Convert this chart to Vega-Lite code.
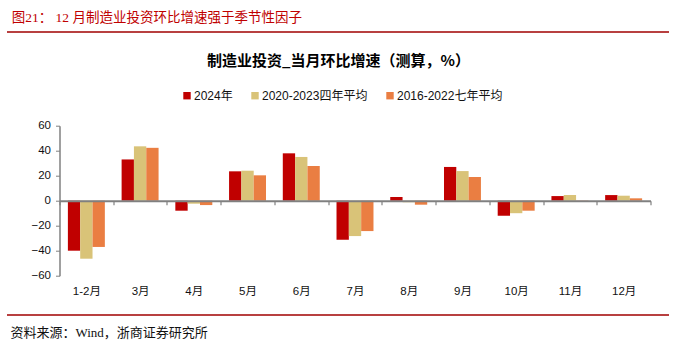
{
  "$schema": "https://vega.github.io/schema/vega-lite/v6.json",
  "autosize": "none",
  "width": 591,
  "height": 150,
  "padding": {"left": 59.5, "top": 125.7, "right": 25.5, "bottom": 69.3},
  "background": "white",
  "config": {"view": {"stroke": null}, "font": "Liberation Sans, Noto Sans CJK SC"},
  "title": {
    "text": "图21：  12  月制造业投资环比增速强于季节性因子",
    "anchor": "start",
    "frame": "group",
    "dx": -47.8,
    "offset": 7,
    "font": "Liberation Serif, Noto Sans CJK SC",
    "fontSize": 13.5,
    "fontWeight": "normal",
    "color": "#C00000"
  },
  "datasets": {
    "bars": [
      {"month": "1-2月", "series": "2024年", "value": -40},
      {"month": "1-2月", "series": "2020-2023四年平均", "value": -46.4},
      {"month": "1-2月", "series": "2016-2022七年平均", "value": -37},
      {"month": "3月", "series": "2024年", "value": 33},
      {"month": "3月", "series": "2020-2023四年平均", "value": 43.5},
      {"month": "3月", "series": "2016-2022七年平均", "value": 42.3},
      {"month": "4月", "series": "2024年", "value": -8},
      {"month": "4月", "series": "2020-2023四年平均", "value": -2.4},
      {"month": "4月", "series": "2016-2022七年平均", "value": -3.5},
      {"month": "5月", "series": "2024年", "value": 23.5},
      {"month": "5月", "series": "2020-2023四年平均", "value": 24},
      {"month": "5月", "series": "2016-2022七年平均", "value": 20.3},
      {"month": "6月", "series": "2024年", "value": 37.9},
      {"month": "6月", "series": "2020-2023四年平均", "value": 35},
      {"month": "6月", "series": "2016-2022七年平均", "value": 27.7},
      {"month": "7月", "series": "2024年", "value": -31.2},
      {"month": "7月", "series": "2020-2023四年平均", "value": -28.3},
      {"month": "7月", "series": "2016-2022七年平均", "value": -24.3},
      {"month": "8月", "series": "2024年", "value": 2.9},
      {"month": "8月", "series": "2020-2023四年平均", "value": -1.3},
      {"month": "8月", "series": "2016-2022七年平均", "value": -3.2},
      {"month": "9月", "series": "2024年", "value": 27},
      {"month": "9月", "series": "2020-2023四年平均", "value": 23.7},
      {"month": "9月", "series": "2016-2022七年平均", "value": 19},
      {"month": "10月", "series": "2024年", "value": -12},
      {"month": "10月", "series": "2020-2023四年平均", "value": -10},
      {"month": "10月", "series": "2016-2022七年平均", "value": -8},
      {"month": "11月", "series": "2024年", "value": 3.7},
      {"month": "11月", "series": "2020-2023四年平均", "value": 4.5},
      {"month": "11月", "series": "2016-2022七年平均", "value": -0.5},
      {"month": "12月", "series": "2024年", "value": 4.5},
      {"month": "12月", "series": "2020-2023四年平均", "value": 4},
      {"month": "12月", "series": "2016-2022七年平均", "value": 1.9}
    ],
    "frame": [{"line": "top"}]
  },
  "layer": [
    {
      "data": {"name": "bars"},
      "mark": {"type": "bar", "clip": false},
      "encoding": {
        "x": {
          "field": "month",
          "type": "nominal",
          "sort": null,
          "scale": {"paddingInner": 0, "paddingOuter": 0},
          "axis": {
            "offset": -75,
            "title": "资料来源：Wind，浙商证券研究所",
            "titleX": -49.5,
            "titleY": 131.3,
            "titleAlign": "left",
            "titleBaseline": "middle",
            "titleFont": "Liberation Serif, Noto Sans CJK SC",
            "titleFontSize": 13,
            "titleFontWeight": "normal",
            "titleColor": "#111111",
            "labelAngle": 0,
            "labelFontSize": 11.5,
            "labelColor": "#111111",
            "labelPadding": 81,
            "labelBaseline": "top",
            "tickBand": "extent",
            "tickSize": 4,
            "tickColor": "#808080",
            "tickWidth": 1.2,
            "domainColor": "#808080",
            "domainWidth": 2,
            "zindex": 1
          }
        },
        "xOffset": {
          "field": "series",
          "type": "nominal",
          "sort": ["2024年", "2020-2023四年平均", "2016-2022七年平均"],
          "scale": {"paddingInner": 0, "paddingOuter": 0.68}
        },
        "y": {
          "field": "value",
          "type": "quantitative",
          "scale": {"domain": [-60, 60], "nice": false},
          "axis": {
            "values": [-60, -40, -20, 0, 20, 40, 60],
            "grid": false,
            "title": "制造业投资_当月环比增速（测算，%）",
            "titleAngle": 0,
            "titleX": 278.5,
            "titleY": -65.2,
            "titleAlign": "center",
            "titleBaseline": "middle",
            "titleFont": "Noto Sans CJK SC",
            "titleFontSize": 15,
            "titleFontWeight": "bold",
            "titleColor": "#000000",
            "labelFontSize": 11.5,
            "labelColor": "#111111",
            "labelPadding": 5,
            "tickSize": 4,
            "tickColor": "#808080",
            "domainColor": "#808080",
            "domainWidth": 1.5
          }
        },
        "color": {
          "field": "series",
          "type": "nominal",
          "sort": ["2024年", "2020-2023四年平均", "2016-2022七年平均"],
          "scale": {
            "domain": ["2024年", "2020-2023四年平均", "2016-2022七年平均"],
            "range": ["#C00000", "#D9C378", "#EA7E42"]
          },
          "legend": {
            "orient": "none",
            "direction": "horizontal",
            "legendX": 121.5,
            "legendY": -36,
            "title": null,
            "symbolType": "square",
            "symbolSize": 55,
            "symbolStrokeWidth": 0,
            "symbolOpacity": 1,
            "labelFontSize": 12,
            "labelColor": "#111111",
            "labelOffset": 1,
            "columnPadding": 16
          }
        }
      }
    },
    {
      "data": {"name": "frame"},
      "mark": {"type": "rule", "color": "#A00000", "strokeWidth": 1.3, "clip": false},
      "encoding": {
        "x": {"value": -52.5},
        "x2": {"value": 609.5},
        "y": {"value": -93.7}
      }
    },
    {
      "data": {"name": "frame"},
      "mark": {"type": "rule", "color": "#A00000", "strokeWidth": 1.3, "clip": false},
      "encoding": {
        "x": {"value": -52.5},
        "x2": {"value": 609.5},
        "y": {"value": 189.3}
      }
    }
  ]
}
